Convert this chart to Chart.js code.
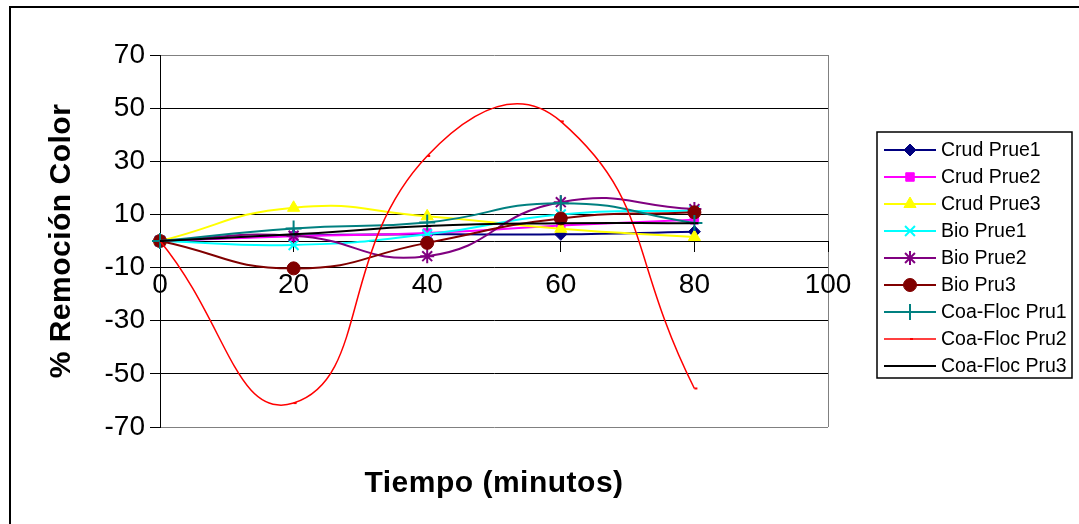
<!DOCTYPE html>
<html>
<head>
<meta charset="utf-8">
<script src="https://cdn.jsdelivr.net/npm/chart.js@4/dist/chart.umd.min.js"></script>
<style>
  html, body { margin: 0; padding: 0; background: #fff; }
</style>
</head>
<body>
<canvas id="chart" width="1079" height="524"></canvas>
<script>
// data
const tiempo = [0, 20, 40, 60, 80];
const crudPrue1 = [0, 2, 2.5, 2.5, 3.5];
const crudPrue2 = [0, 1.8, 3, 5.8, 8];
const crudPrue3 = [0, 12.5, 9.3, 4.6, 1.5];
const bioPrue1 = [0, -1.5, 2.5, 10, 11.5];
const bioPrue2 = [0, 2, -5.7, 14.6, 12];
const bioPru3 = [0, -10.3, -0.7, 8.5, 10.8];
const coaFlocPru1 = [0, 4.7, 7, 14.2, 6.8];
const coaFlocPru2 = [0, -61, 32, 45, -55.5];
const coaFlocPru3 = [0, 2.5, 5.6, 6.7, 6.7];

const seriesNames = ['Crud Prue1', 'Crud Prue2', 'Crud Prue3', 'Bio Prue1', 'Bio Prue2',
  'Bio Pru3', 'Coa-Floc Pru1', 'Coa-Floc Pru2', 'Coa-Floc Pru3'];
const seriesValues = [crudPrue1, crudPrue2, crudPrue3, bioPrue1, bioPrue2,
  bioPru3, coaFlocPru1, coaFlocPru2, coaFlocPru3];

const xMin = 0, xMax = 100, xStep = 20;
const yMin = -70, yMax = 70, yStep = 20;

const xTitle = 'Tiempo (minutos)';
const yTitle = '% Remoción Color';

// look of each series
const styles = [
  { color: '#000080', point: 'rectRot', r: 6, pw: 1, lw: 2 },
  { color: '#FF00FF', point: 'rect', r: 6, pw: 1, lw: 2 },
  { color: '#FFFF00', point: 'triangle', r: 7, pw: 1, lw: 2 },
  { color: '#00FFFF', point: 'crossRot', r: 7, pw: 2, lw: 2 },
  { color: '#800080', point: 'star', r: 7, pw: 2, lw: 2 },
  { color: '#800000', point: 'circle', r: 6.5, pw: 1, lw: 2 },
  { color: '#008080', point: 'cross', r: 8, pw: 2, lw: 2 },
  { color: '#FF0000', point: 'dash', r: 3, pw: 2, lw: 1.5 },
  { color: '#000000', point: 'dash', r: 4, pw: 2, lw: 2 }
];

const FONT = '"Liberation Sans", Arial, sans-serif';

const datasets = seriesValues.map((vals, i) => ({
  label: seriesNames[i],
  data: tiempo.map((t, j) => ({ x: t, y: vals[j] })),
  showLine: true,
  tension: 0.5,
  borderColor: styles[i].color,
  borderWidth: styles[i].lw,
  pointStyle: styles[i].point,
  pointRadius: styles[i].r,
  pointBackgroundColor: styles[i].color,
  pointBorderColor: styles[i].color,
  pointBorderWidth: styles[i].pw,
  clip: false,
  order: seriesValues.length - i
}));

const frame = {
  id: 'frame',
  beforeDraw(chart) {
    const ctx = chart.ctx;
    ctx.save();
    ctx.fillStyle = '#fff';
    ctx.fillRect(0, 0, chart.width, chart.height);
    ctx.strokeStyle = '#000';
    ctx.lineWidth = 2;
    ctx.strokeRect(10, 7, chart.width + 20, chart.height + 20);
    ctx.restore();
  }
};

const titles = {
  id: 'titles',
  afterDraw(chart) {
    const ctx = chart.ctx;
    const a = chart.chartArea;
    ctx.save();
    ctx.fillStyle = '#000';
    ctx.font = 'bold 30px ' + FONT;
    ctx.letterSpacing = '0.5px';
    ctx.textAlign = 'center';
    ctx.textBaseline = 'middle';
    ctx.fillText(xTitle, (a.left + a.right) / 2, 484);
    ctx.translate(62, (a.top + a.bottom) / 2);
    ctx.rotate(-Math.PI / 2);
    ctx.fillText(yTitle, 0, 0);
    ctx.restore();
  }
};

const excelLegend = {
  id: 'excelLegend',
  afterDraw(chart) {
    const ctx = chart.ctx;
    ctx.save();
    ctx.strokeStyle = '#000';
    ctx.lineWidth = 1.5;
    ctx.strokeRect(877, 132, 195, 246);
    ctx.font = '19.5px ' + FONT;
    ctx.textBaseline = 'middle';
    ctx.textAlign = 'left';
    chart.data.datasets.forEach((ds, i) => {
      const y = 150 + i * 27;
      ctx.strokeStyle = ds.borderColor;
      ctx.lineWidth = ds.borderWidth;
      ctx.beginPath();
      ctx.moveTo(884, y);
      ctx.lineTo(936, y);
      ctx.stroke();
      ctx.fillStyle = ds.pointBackgroundColor;
      ctx.strokeStyle = ds.pointBorderColor;
      ctx.lineWidth = ds.pointBorderWidth;
      Chart.helpers.drawPoint(ctx, {
        pointStyle: ds.pointStyle, radius: ds.pointRadius,
        rotation: 0, borderWidth: ds.pointBorderWidth
      }, 910, y);
      ctx.fillStyle = '#000';
      ctx.fillText(ds.label, 941, y + 1);
    });
    ctx.restore();
  }
};

new Chart(document.getElementById('chart'), {
  type: 'scatter',
  data: { datasets: datasets },
  plugins: [frame, titles, excelLegend],
  options: {
    responsive: false,
    animation: false,
    layout: { padding: { left: 0, top: 55, right: 251, bottom: 97 } },
    plugins: { legend: { display: false }, tooltip: { enabled: false } },
    scales: {
      x: {
        type: 'linear',
        position: { y: 0 },
        min: xMin, max: xMax,
        ticks: {
          stepSize: xStep, color: '#000', padding: 17,
          font: { family: FONT, size: 28 },
          callback: v => String(v)
        },
        grid: {
          color: c => (c.tick && c.tick.value === xMax) ? '#808080' : 'rgba(0,0,0,0)',
          tickColor: '#000', tickLength: 10, lineWidth: 1
        },
        border: { color: '#000', width: 1 }
      },
      y: {
        type: 'linear',
        position: 'left',
        min: yMin, max: yMax,
        afterFit: s => { s.width = 160; },
        ticks: {
          stepSize: yStep, color: '#000', padding: 5,
          font: { family: FONT, size: 28 },
          callback: v => String(v)
        },
        grid: {
          color: c => (c.tick && (c.tick.value === yMax || c.tick.value === yMin)) ? '#808080' : '#000',
          tickColor: '#000', tickLength: 10, lineWidth: 1
        },
        border: { color: '#000', width: 1 }
      }
    }
  }
});
</script>
</body>
</html>
